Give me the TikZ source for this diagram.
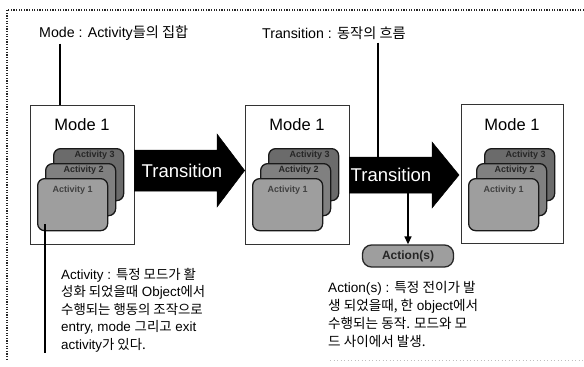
\documentclass[tikz,border=0pt]{standalone}
\usepackage{fontspec}
\setmainfont{Liberation Sans}
\newfontfamily\korfont{Noto Sans CJK KR}
\newcommand\ko[1]{{\korfont #1}}
\usetikzlibrary{arrows.meta}
\begin{document}
\begin{tikzpicture}[x=1pt,y=-1pt,
  modebox/.style={draw=black!80,line width=0.7pt,fill=white,minimum width=104pt,minimum height=139pt,inner sep=0pt},
  modetitle/.style={font=\fontsize{16.5}{18}\selectfont,inner sep=0pt},
  card/.style={draw=black!90,line width=1.3pt,rounded corners=7pt,minimum width=70pt,minimum height=52pt,inner sep=0pt},
  cardtext/.style={font=\fontsize{9}{10}\selectfont\bfseries,text=black!75,inner sep=0pt},
  bigarrow/.style={fill=black,draw=black,line width=0.5pt},
  arrowtext/.style={font=\fontsize{18.5}{20}\selectfont,text=white,inner sep=0pt},
  callout/.style={line width=2pt,draw=black},
  lbl/.style={font=\fontsize{14.2}{16}\selectfont,inner sep=0pt,anchor=west},
  desc/.style={font=\fontsize{13.4}{17.5}\selectfont,inner sep=0pt,align=left,anchor=north west},
  frameline/.style={line width=1.5pt,dash pattern=on 1.3pt off 1.3pt,draw=black!85}
]
\useasboundingbox (0,0) rectangle (584,367);
% frame
\draw[frameline] (584,10) -- (7,10) -- (7,360);
\draw[line width=1pt,dash pattern=on 1pt off 2.5pt,draw=black!25] (330,360) -- (584,360);

% top labels
\node[lbl] (modelbl) at (39,33) {Mode : Activity\ko{들의 집합}};
\node[lbl] (translbl) at (262,33) {Transition : \ko{동작의 흐름}};

% mode boxes
\node[modebox] (box1) at (82,174.5) {};
\node[modebox] (box2) at (297,174.5) {};
\node[modebox,minimum width=102pt] (box3) at (512,174) {};
\foreach \b in {1,2,3}{
  \node[modetitle] (title\b) at ([yshift=-20pt]box\b.north) {Mode 1};
}

% activity cards
\foreach \b/\x in {1/37,2/252,3/468}{
  \node[card,fill=black!58,anchor=north west] (back\b) at (\x+16,148) {};
  \node[cardtext,text=black!85] at ([yshift=-7pt,xshift=6pt]back\b.north) {Activity 3};
  \node[card,fill=black!50,anchor=north west] (mid\b) at (\x+8,163) {};
  \node[cardtext,text=black!85] at ([yshift=-7pt,xshift=3pt]mid\b.north) {Activity 2};
  \node[card,fill=black!38,anchor=north west] (front\b) at (\x,178) {};
  \node[cardtext] (ftext\b) at ([yshift=-12pt]front\b.north) {Activity 1};
}

% transition arrows
\coordinate (a1t) at (box2.west |- 0,170.5);
\fill[bigarrow] (box1.east |- 0,150) -- (217,150) -- (217,134) -- (a1t) -- (217,207) -- (217,191) -- (box1.east |- 0,191) -- cycle;
\node[arrowtext] (t1) at (182,170.5) {Transition};

\coordinate (a2t) at (459,175);
\fill[bigarrow] (box2.east |- 0,157) -- (432,157) -- (432,142) -- (a2t) -- (432,208) -- (432,193) -- (box2.east |- 0,193) -- cycle;
\node[arrowtext] (t2) at (391,175) {Transition};

% action node
\node[draw=black!85,line width=1.3pt,fill=black!38,rounded corners=9pt,minimum width=91pt,minimum height=22pt,inner sep=0pt,font=\fontsize{12}{14}\selectfont\bfseries,text=black!85] (action) at (408,256) {Action(s)};

% callout lines
\coordinate (mx) at (60,0);
\draw[callout] (modelbl.south -| mx) ++(0,3) -- (box1.north -| mx);
\coordinate (tx) at (378,0);
\draw[callout] (translbl.south -| tx) ++(0,3) -- (tx |- 0,157);
\coordinate (ax) at (45,0);
\coordinate (aend) at (45,353);
\draw[callout] (ax |- 0,224) -- (aend);
\draw[line width=1.6pt,-{Triangle[length=8pt,width=7pt]}] (408,193) -- (action.north -| 408,0);

% descriptions
\node[desc] (actdesc) at (61,268) {Activity : \ko{특정 모드가 활}\\
\ko{성화 되었을때} Object\ko{에서}\\
\ko{수행되는 행동의 조작으로}\\
entry, mode \ko{그리고} exit\\
activity\ko{가 있다.}};

\node[desc,font=\fontsize{13.6}{18}\selectfont] (actiondesc) at (328,281) {Action(s) : \ko{특정 전이가 발}\\
\ko{생 되었을때, 한} object\ko{에서}\\
\ko{수행되는 동작. 모드와 모}\\
\ko{드 사이에서 발생.}};
\end{tikzpicture}
\end{document}
